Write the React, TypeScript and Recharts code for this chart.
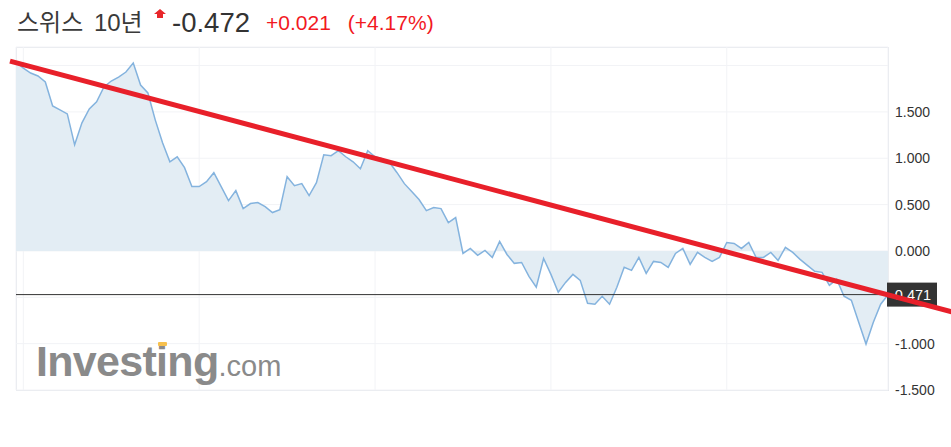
import React from "react";
import {
  ComposedChart,
  Area,
  XAxis,
  YAxis,
  CartesianGrid,
  ReferenceLine,
} from "recharts";

// Swiss 10Y yield, one value per session
const yields = [
  2.038, 1.973, 1.919, 1.887, 1.823, 1.565, 1.522, 1.478, 1.145, 1.382,
  1.532, 1.608, 1.769, 1.833, 1.876, 1.93, 2.027, 1.79, 1.704, 1.414,
  1.167, 0.962, 1.016, 0.898, 0.694, 0.694, 0.747, 0.844, 0.694, 0.543,
  0.651, 0.457, 0.511, 0.522, 0.478, 0.414, 0.446, 0.801, 0.704, 0.726,
  0.597, 0.737, 1.038, 1.027, 1.081, 1.016, 0.962, 0.887, 1.081, 1.016,
  0.995, 0.952, 0.844, 0.726, 0.64, 0.554, 0.435, 0.468, 0.457, 0.306,
  0.36, -0.027, 0.027, -0.048, 0.005, -0.07, 0.102, -0.038, -0.134, -0.124,
  -0.274, -0.392, -0.081, -0.253, -0.446, -0.339, -0.253, -0.317, -0.565, -0.575,
  -0.489, -0.575, -0.392, -0.177, -0.21, -0.07, -0.242, -0.113, -0.124, -0.177,
  -0.027, 0.027, -0.145, -0.016, -0.07, -0.113, -0.07, 0.091, 0.081, 0.027,
  0.091, -0.07, -0.07, -0.016, -0.102, 0.038, -0.016, -0.091, -0.156, -0.22,
  -0.231, -0.371, -0.306, -0.489, -0.532, -0.769, -1.005, -0.769, -0.575, -0.472,
];

const yTicks = [-1.5, -1, -0.5, 0, 0.5, 1, 1.5, 2];
const hiddenTickLabels = [-0.5, 2];
const xGridTicks = [1, 25, 49, 73, 97];
const currentValue = -0.471;
// hand-drawn trend line, ends in (index, value)
const trendStart = { x: -0.82, y: 2.048 };
const trendEnd = { x: 127.9, y: -0.661 };

const data = yields.map((v, i) => ({ i, v }));

const FONT = '"Liberation Sans", Arial, "Noto Sans CJK KR", sans-serif';

const YTick = ({ x, y, payload }: any) => {
  if (hiddenTickLabels.includes(payload.value)) return null;
  return (
    <text x={x} y={y} dy={5} fill="#333" fontSize={14} fontFamily={FONT} textAnchor="start">
      {payload.value.toFixed(3)}
    </text>
  );
};

const CurrentLabel = (props: any) => {
  const vb = props.viewBox;
  if (!vb) return null;
  const x = vb.x + vb.width;
  return (
    <g>
      <rect x={x - 1} y={vb.y - 12} width={50} height={24} fill="#333" />
      <text x={x + 2} y={vb.y + 5} fill="#fff" fontSize={14.5} fontFamily={FONT}>
        {currentValue.toFixed(3)}
      </text>
    </g>
  );
};

export default function App() {
  return (
    <div
      style={{
        position: "absolute",
        left: 0,
        top: 0,
        width: 951,
        height: 447,
        background: "#fff",
        fontFamily: FONT,
      }}
    >
      <div style={{ position: "absolute", left: 17, top: 11, fontSize: 24, lineHeight: 1, color: "#3a3a3a", whiteSpace: "nowrap", wordSpacing: 4 }}>
        스위스 10년
      </div>
      <svg style={{ position: "absolute", left: 154, top: 9 }} width={12} height={9}>
        <polygon points="6,0 12,5 9,5 9,9 3,9 3,5 0,5" fill="#e8262a" />
      </svg>
      <div style={{ position: "absolute", left: 172, top: 9, fontSize: 27.5, lineHeight: 1, color: "#333" }}>
        {"-0.472"}
      </div>
      <div style={{ position: "absolute", left: 266, top: 12, fontSize: 21, lineHeight: 1, color: "#f2191f", whiteSpace: "nowrap" }}>
        <span>+0.021</span>
        <span style={{ marginLeft: 17 }}>(+4.17%)</span>
      </div>

      <div
        style={{
          position: "absolute",
          left: 16,
          top: 47,
          width: 871,
          height: 342,
          border: "1px solid #e4e6ec",
        }}
      />

      <div style={{ position: "absolute", left: 0, top: 0 }}>
        <ComposedChart
          width={951}
          height={447}
          data={data}
          margin={{ top: 47, right: 0, bottom: 57, left: 16 }}
        >
          <CartesianGrid stroke="#f2f3f6" strokeWidth={1} />
          <XAxis type="number" dataKey="i" domain={[0, 119]} ticks={xGridTicks} hide />
          <YAxis
            orientation="right"
            width={63}
            type="number"
            domain={[-1.5, 2.2]}
            ticks={yTicks}
            axisLine={false}
            tickLine={false}
            tickSize={0}
            tickMargin={7}
            tick={<YTick />}
            interval={0}
          />
          <Area
            type="linear"
            dataKey="v"
            baseValue={0}
            stroke="#84b3de"
            strokeWidth={1.5}
            fill="#e3edf4"
            fillOpacity={1}
            dot={false}
            activeDot={false}
            isAnimationActive={false}
          />
          <ReferenceLine y={currentValue} stroke="#333" strokeWidth={1} label={<CurrentLabel />} />
          <ReferenceLine
            segment={[trendStart, trendEnd]}
            stroke="#e8202a"
            strokeWidth={5}
            ifOverflow="visible"
          />
        </ComposedChart>
      </div>

      <div
        style={{
          position: "absolute",
          left: 36,
          top: 340,
          fontSize: 43,
          lineHeight: "43px",
          color: "#8a8a8a",
          whiteSpace: "nowrap",
        }}
      >
        <span style={{ fontWeight: "bold", letterSpacing: -0.7 }}>Investing</span>
        <span style={{ fontSize: 29 }}>.com</span>
      </div>
      <div style={{ position: "absolute", left: 158, top: 342, width: 9, height: 4, background: "#f6c04e", borderRadius: 1 }} />
    </div>
  );
}
